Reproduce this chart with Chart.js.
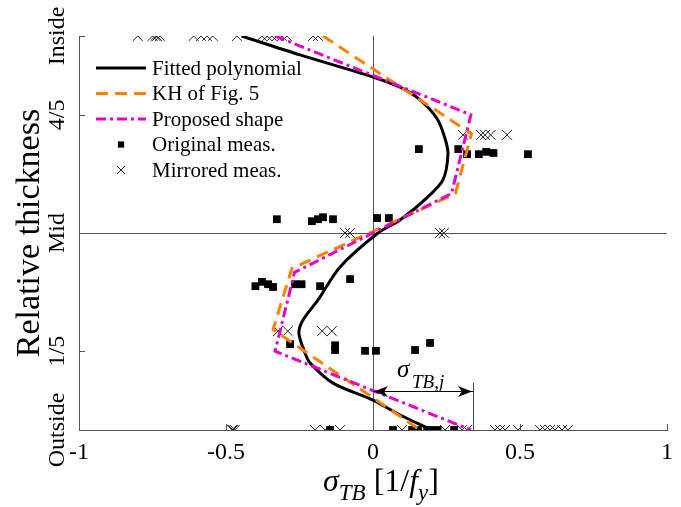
<!DOCTYPE html>
<html>
<head>
<meta charset="utf-8">
<script src="https://cdn.jsdelivr.net/npm/chart.js@4.4.0/dist/chart.umd.min.js"></script>
<style>
body{margin:0;background:#fff;}
#wrap{width:681px;height:507px;position:relative;}
</style>
</head>
<body>
<div id="wrap"><canvas id="c"></canvas></div>
<script>
// fitted polynomial
const fitX=[-0.447,-0.248,0,0.092,0.16,0.218,0.245,0.255,0.238,0.184,0.092,0.017,-0.112,-0.187,-0.238,-0.252,-0.231,-0.214,-0.136,0,0.092,0.2];
const fitY=[1,0.952,0.896,0.87,0.838,0.79,0.74,0.70,0.635,0.59,0.533,0.5,0.414,0.33,0.279,0.246,0.195,0.17,0.119,0.076,0.038,0];

// KH of Fig. 5
const khX=[-0.17,0.335,0.28,-0.276,-0.34,0.16];
const khY=[1,0.752,0.6,0.41,0.255,0];

// proposed shape
const propX=[-0.333,0.333,0.267,-0.267,-0.333,0.333];
const propY=[1,0.8,0.6,0.4,0.2,0];

// original measurements
const origX=[0.156,0.29,0.32,0.36,0.385,0.41,0.527,
  -0.327,-0.208,-0.187,-0.17,-0.136,0.014,0.054,
  -0.40,-0.378,-0.357,-0.34,-0.265,-0.243,-0.18,-0.078,
  -0.282,-0.129,-0.129,-0.027,0.01,0.143,0.194,
  -0.146,0.068,0.133,0.153,0.184,0.2,0.22,0.276];
const origY=[0.713,0.713,0.70,0.70,0.706,0.703,0.70,
  0.535,0.53,0.535,0.54,0.535,0.538,0.538,
  0.365,0.376,0.37,0.363,0.37,0.37,0.365,0.383,
  0.218,0.215,0.203,0.201,0.201,0.203,0.221,
  0,0,0,0,0,0,0,0];

// mirrored measurements
const mirX=[-0.80,-0.75,-0.74,-0.735,-0.725,-0.61,-0.585,-0.565,-0.545,-0.463,-0.378,-0.36,-0.344,-0.327,-0.31,-0.293,-0.204,-0.187,
  0.306,0.367,0.381,0.40,0.456,
  -0.095,-0.078,0.228,0.241,
  -0.323,-0.29,-0.173,-0.14,
  -0.48,-0.476,-0.47,-0.197,-0.163,-0.112,0.099,0.245,0.303,0.32,0.415,0.432,0.449,0.493,0.568,0.585,0.602,0.619,0.643,0.663];
const mirY=[1,1,1,1,1,1,1,1,1,1,1,1,1,1,1,1,1,1,
  0.749,0.749,0.749,0.749,0.749,
  0.5,0.5,0.5,0.5,
  0.251,0.251,0.251,0.251,
  0,0,0,0,0,0,0,0,0,0,0,0,0,0,0,0,0,0,0,0];

const xTicks=[-1,-0.5,0,0.5,1];
const yTicks=[0,0.2,0.5,0.8,1];
const yTickLabels=['Outside','1/5','Mid','4/5','Inside'];

// sigma_TB,j dimension arrow
const jumpX=[0,0.34];
const jumpY=0.1;
const jumpTop=0.12;

const SERIF="'Liberation Serif', 'Times New Roman', serif";

function pts(xs,ys){return xs.map((x,i)=>({x:x,y:ys[i]}));}

const decor={
  id:'decor',
  beforeDatasetsDraw(chart){
    const ctx=chart.ctx, a=chart.chartArea, xs=chart.scales.x, ys=chart.scales.y;
    ctx.save();
    ctx.lineWidth=1;
    ctx.strokeStyle='#555';
    // zero line and mid line
    let px=Math.round(xs.getPixelForValue(0))+0.5;
    ctx.beginPath();ctx.moveTo(px,a.top);ctx.lineTo(px,a.bottom);ctx.stroke();
    let py=Math.round(ys.getPixelForValue(0.5))+0.5;
    ctx.beginPath();ctx.moveTo(a.left,py);ctx.lineTo(a.right,py);ctx.stroke();
    // inward ticks
    yTicks.forEach(v=>{
      let y=Math.round(ys.getPixelForValue(v))+0.5;
      ctx.beginPath();ctx.moveTo(a.left,y);ctx.lineTo(a.left+6,y);ctx.stroke();
    });
    xTicks.forEach(v=>{
      let x=Math.round(xs.getPixelForValue(v))+0.5;
      ctx.beginPath();ctx.moveTo(x,a.bottom);ctx.lineTo(x,a.bottom-6);ctx.stroke();
    });
    ctx.restore();
  },
  afterDraw(chart){
    const ctx=chart.ctx, a=chart.chartArea, xs=chart.scales.x, ys=chart.scales.y;
    ctx.save();
    // dimension arrow
    const x0=xs.getPixelForValue(jumpX[0]), x1=xs.getPixelForValue(jumpX[1]);
    const py=Math.round(ys.getPixelForValue(jumpY))+0.5;
    ctx.strokeStyle='#000';ctx.fillStyle='#000';ctx.lineWidth=1;
    ctx.beginPath();ctx.moveTo(x0,py);ctx.lineTo(x1,py);ctx.stroke();
    const vx=Math.round(x1)+0.5;
    ctx.strokeStyle='#444';
    ctx.beginPath();ctx.moveTo(vx,ys.getPixelForValue(0));ctx.lineTo(vx,ys.getPixelForValue(jumpTop));ctx.stroke();
    function head(x,dir){
      ctx.beginPath();
      ctx.moveTo(x,py);
      ctx.lineTo(x+dir*14,py-5.5);
      ctx.lineTo(x+dir*10,py);
      ctx.lineTo(x+dir*14,py+5.5);
      ctx.closePath();ctx.fill();
    }
    head(x0+1,1);head(x1-1,-1);
    ctx.textBaseline='alphabetic';ctx.textAlign='left';
    ctx.font='italic 25px '+SERIF;
    ctx.fillText('σ',x0+24,py-15);
    ctx.font='italic 19px '+SERIF;
    ctx.fillText('TB,j',x0+39,py-4);

    // legend
    const rows=[68,93.5,119,144.5,170];
    chart.data.datasets.forEach((d,i)=>{
      const y=rows[i];
      ctx.save();
      if(d.showLine){
        ctx.strokeStyle=d.borderColor;ctx.lineWidth=d.borderWidth;
        ctx.setLineDash(d.borderDash||[]);
        ctx.beginPath();ctx.moveTo(96,y);ctx.lineTo(146,y);ctx.stroke();
      }else{
        ctx.fillStyle=d.backgroundColor||'#000';
        ctx.strokeStyle=d.borderColor||'#000';
        ctx.lineWidth=d.borderWidth;
        Chart.helpers.drawPoint(ctx,{pointStyle:d.pointStyle,radius:d.pointRadius*0.8,rotation:0,borderWidth:d.borderWidth},121,y);
      }
      ctx.restore();
      ctx.fillStyle='#000';
      ctx.font='21px '+SERIF;
      ctx.textBaseline='middle';
      ctx.fillText(d.label,152,y+1);
    });

    // y tick labels, rotated
    ctx.fillStyle='#000';
    ctx.font='24px '+SERIF;
    ctx.textAlign='center';ctx.textBaseline='middle';
    yTicks.forEach((v,i)=>{
      ctx.save();
      ctx.translate(58,ys.getPixelForValue(v));
      ctx.rotate(-Math.PI/2);
      ctx.fillText(yTickLabels[i],0,0);
      ctx.restore();
    });
    // y title
    ctx.save();
    ctx.font='34px '+SERIF;
    ctx.translate(30,ys.getPixelForValue(0.5));
    ctx.rotate(-Math.PI/2);
    ctx.fillText('Relative thickness',0,0);
    ctx.restore();

    // x title with subscripts
    const parts=[
      {t:'σ',f:'italic 32px ',dy:0},
      {t:'TB',f:'italic 23px ',dy:9},
      {t:' [1/',f:'32px ',dy:0},
      {t:'f',f:'italic 32px ',dy:0},
      {t:'y',f:'italic 23px ',dy:9},
      {t:']',f:'32px ',dy:0}
    ];
    ctx.textAlign='left';ctx.textBaseline='alphabetic';
    let w=0;
    parts.forEach(p=>{ctx.font=p.f+SERIF;p.w=ctx.measureText(p.t).width;w+=p.w;});
    let x=381-w/2;
    parts.forEach(p=>{ctx.font=p.f+SERIF;ctx.fillText(p.t,x,491+p.dy);x+=p.w;});
    ctx.restore();
  }
};

new Chart(document.getElementById('c'),{
  type:'scatter',
  data:{datasets:[
    {label:'Fitted polynomial',data:pts(fitX,fitY),showLine:true,borderColor:'#000',borderWidth:3,pointRadius:0,tension:0.3,order:2},
    {label:'KH of Fig. 5',data:pts(khX,khY),showLine:true,borderColor:'#ff8000',borderWidth:3,borderDash:[12,7],pointRadius:0,tension:0,order:1},
    {label:'Proposed shape',data:pts(propX,propY),showLine:true,borderColor:'#e400c4',borderWidth:3,borderDash:[10,4,3,4],pointRadius:0,tension:0,order:0},
    {label:'Original meas.',data:pts(origX,origY),pointStyle:'rect',pointRadius:5.5,backgroundColor:'#000',borderColor:'#000',borderWidth:0,order:3},
    {label:'Mirrored meas.',data:pts(mirX,mirY),pointStyle:'crossRot',pointRadius:7,backgroundColor:'#222',borderColor:'#222',borderWidth:1,order:4}
  ]},
  options:{
    responsive:true,
    maintainAspectRatio:false,
    animation:false,
    layout:{padding:{top:36,right:14,left:0,bottom:0}},
    plugins:{legend:{display:false},tooltip:{enabled:false}},
    scales:{
      x:{
        min:-1,max:1,
        afterBuildTicks:s=>{s.ticks=xTicks.map(v=>({value:v}));},
        afterFit:s=>{s.height=77;},
        ticks:{font:{family:SERIF,size:24},color:'#000',padding:8,maxRotation:0,autoSkip:false,callback:v=>String(v)},
        grid:{display:false,drawTicks:false},
        border:{display:true,color:'#555',width:1}
      },
      y:{
        min:0,max:1,
        afterBuildTicks:s=>{s.ticks=yTicks.map(v=>({value:v}));},
        afterFit:s=>{s.width=79;},
        ticks:{display:false},
        grid:{display:false,drawTicks:false},
        border:{display:true,color:'#555',width:1}
      }
    }
  },
  plugins:[decor]
});
</script>
</body>
</html>
